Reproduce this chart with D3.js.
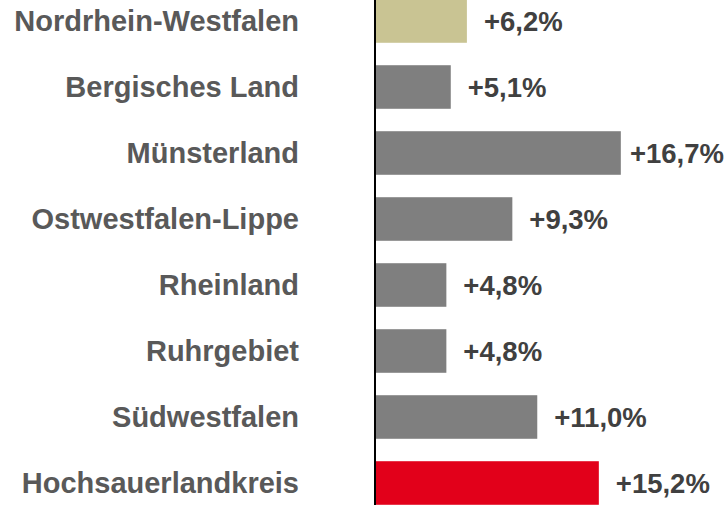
<!DOCTYPE html>
<html><head><meta charset="utf-8">
<script src="https://cdn.jsdelivr.net/npm/d3@7"></script>
<style>html,body{margin:0;padding:0;background:#fff;overflow:hidden}</style>
</head><body>
<script>
const categories = ["Nordrhein-Westfalen","Bergisches Land","Münsterland","Ostwestfalen-Lippe","Rheinland","Ruhrgebiet","Südwestfalen","Hochsauerlandkreis"];
const values = [6.2, 5.1, 16.7, 9.3, 4.8, 4.8, 11.0, 15.2];
const valueLabels = ["+6,2%","+5,1%","+16,7%","+9,3%","+4,8%","+4,8%","+11,0%","+15,2%"];
const barColors = ["#c9c493","#7f7f7f","#7f7f7f","#7f7f7f","#7f7f7f","#7f7f7f","#7f7f7f","#e2001a"];

const W = 727, H = 505;
const svg = d3.select("body").append("svg").attr("width", W).attr("height", H);

const y = d3.scaleBand().domain(categories).range([-12, 516]).paddingInner(0.34).paddingOuter(0.17);
const x = d3.scaleLinear().domain([0, 20]).range([376, 376 + 293.2]);

svg.selectAll("rect.bar").data(categories).enter().append("rect")
  .attr("x", x(0)).attr("y", d => y(d))
  .attr("width", (d,i) => x(values[i]) - x(0))
  .attr("height", y.bandwidth())
  .attr("fill", (d,i) => barColors[i]);

svg.append("line").attr("x1", 375).attr("x2", 375).attr("y1", 0).attr("y2", H)
  .attr("stroke", "#000").attr("stroke-width", 2);

svg.selectAll("text.cat").data(categories).enter().append("text")
  .attr("x", 299).attr("y", d => y(d) + y.bandwidth()/2 + 9.5)
  .attr("text-anchor", "end")
  .attr("font-family", "Liberation Sans, Arial, sans-serif")
  .attr("font-weight", "bold").attr("font-size", 29)
  .attr("fill", "#595959").text(d => d);

svg.selectAll("text.val").data(categories).enter().append("text")
  .attr("y", d => y(d) + y.bandwidth()/2 + 9.5)
  .attr("font-family", "Liberation Sans, Arial, sans-serif")
  .attr("font-weight", "bold").attr("font-size", 27.5)
  .attr("fill", "#404040").text((d,i) => valueLabels[i])
  .attr("x", function(d,i){ const len = this.getComputedTextLength(); return Math.min(x(values[i]) + 17, W - 3 - len); });
</script>
</body></html>
